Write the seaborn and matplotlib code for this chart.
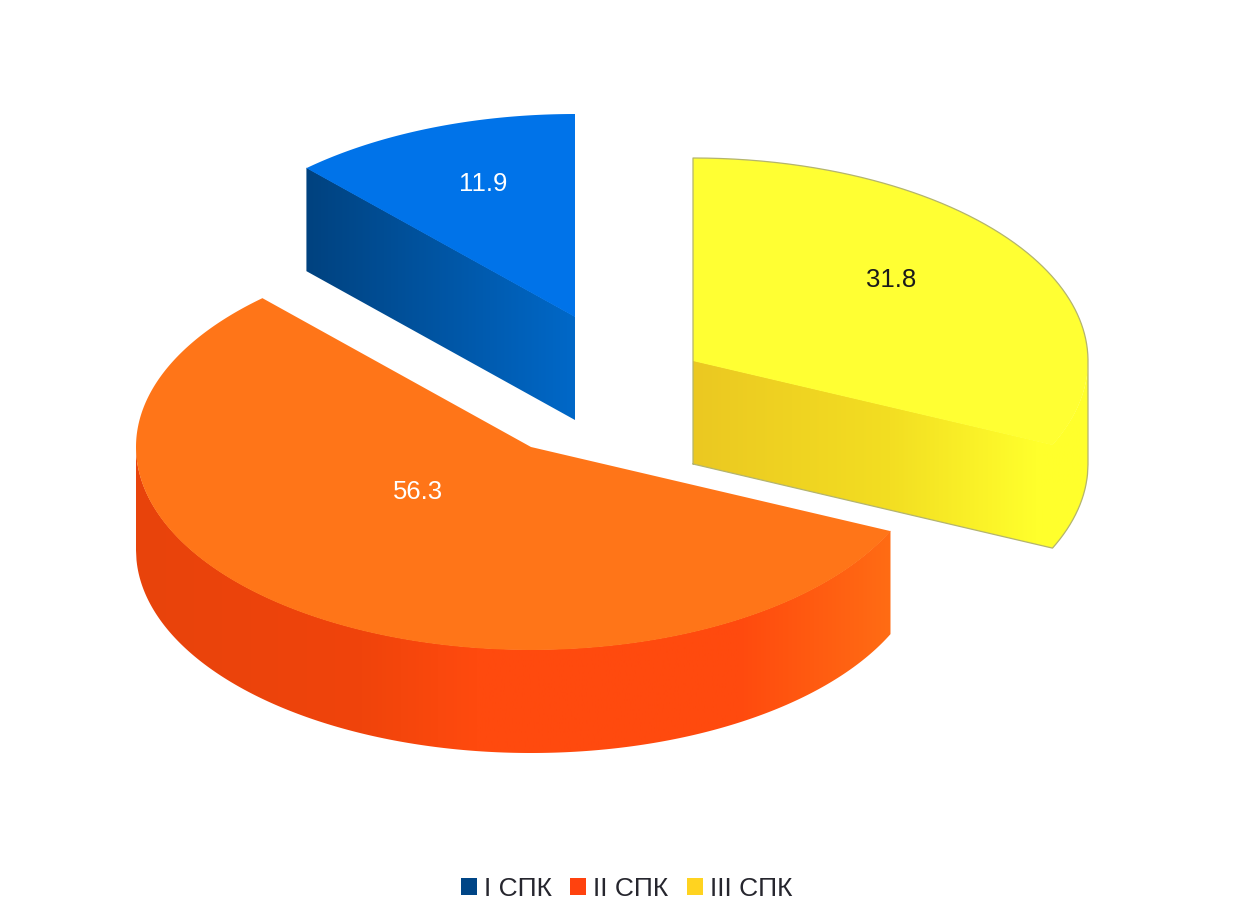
import numpy as np
import matplotlib
matplotlib.use('Agg')
import matplotlib.pyplot as plt
import seaborn as sns
from matplotlib.colors import LinearSegmentedColormap
from matplotlib.patches import Patch, Polygon

labels = ['I СПК', 'II СПК', 'III СПК']
values = [11.9, 56.3, 31.8]

# legend colours, top faces, wall gradients (left to right)
legend_colors = ['#004586', '#FF420E', '#FFD320']
top_colors = ['#0073E9', '#FF7518', '#FFFF33']
wall_colors = [[(0, '#00427F'), (1, '#0068C8')],
               [(0, '#E8430C'), (0.3, '#F0440B'), (0.45, '#FF4A0E'), (0.8, '#FF4A0E'), (1, '#FF6C14')],
               [(0, '#EBC821'), (0.5, '#F3DE22'), (0.87, '#FFFF2C'), (1, '#FFFF2C')]]
edge_colors = ['none', 'none', '#B4B46E']
text_colors = ['white', 'white', '#1A1A1A']

# exploded apex of each slice and label spot, in picture pixels
apex = [(575, 317), (531, 447), (693, 361)]
label_pos = [(483, 184), (418, 492), (891, 280)]
rx, ry = 395, 203
depth = 103

sns.set_theme(style='white')
plt.rcParams['font.family'] = ['Liberation Sans', 'DejaVu Sans']

fig = plt.figure(figsize=(12.41, 9.06), dpi=100)
ax = fig.add_axes([0, 0, 1, 1])


def lower_edge(px, py):
    # lowest point of the top face for every pixel column
    xs = np.arange(px.min(), px.max(), 0.5)
    xs = np.r_[xs, px.max()]
    ys = np.full(xs.shape, -np.inf)
    for i in range(len(px)):
        x1, y1, x2, y2 = px[i], py[i], px[(i + 1) % len(px)], py[(i + 1) % len(px)]
        if x1 == x2:
            continue
        m = (xs >= min(x1, x2)) & (xs <= max(x1, x2))
        ys[m] = np.maximum(ys[m], y1 + (y2 - y1) * (xs[m] - x1) / (x2 - x1))
    keep = np.isfinite(ys)
    return xs[keep], ys[keep]


def draw_slice(i, start, sweep):
    cx, cy = apex[i]
    t = np.radians(np.linspace(start, start + sweep, 400))
    px = np.r_[cx, cx + rx * np.cos(t)]
    py = np.r_[cy, cy - ry * np.sin(t)]

    # wall below the top face, horizontal gradient clipped to its outline
    xs, ys = lower_edge(px, py)
    wall = Polygon(np.c_[np.r_[xs, xs[::-1]], np.r_[ys - 0.5, (ys + depth)[::-1]]],
                   closed=True, fc='none', ec='none', zorder=i * 3 + 1)
    ax.add_patch(wall)
    cmap = LinearSegmentedColormap.from_list('wall%d' % i, wall_colors[i])
    img = ax.imshow(np.linspace(0, 1, 256).reshape(1, -1), cmap=cmap, aspect='auto',
                    extent=(px.min(), px.max(), py.max() + depth, py.min()),
                    zorder=i * 3)
    img.set_clip_path(wall)

    ax.add_patch(Polygon(np.c_[px, py], closed=True, fc=top_colors[i],
                         ec='none', zorder=i * 3 + 2))
    if edge_colors[i] != 'none':
        # thin rim round the silhouette only, left wall to arc to lower edge
        back = t[np.sin(t) >= 0][::-1]
        rim_x = np.r_[cx, cx + rx * np.cos(back), xs[::-1]]
        rim_y = np.r_[cy + depth, cy - ry * np.sin(back), (ys + depth)[::-1]]
        ax.plot(rim_x, rim_y, color=edge_colors[i], lw=0.9, zorder=i * 3 + 2)


start = 90
for i, v in enumerate(values):
    sweep = v / sum(values) * 360
    draw_slice(i, start, sweep)
    start += sweep

ax.set_xlim(0, 1241)
ax.set_ylim(906, 0)
ax.axis('off')

for i, v in enumerate(values):
    ax.text(label_pos[i][0], label_pos[i][1], str(v), color=text_colors[i], fontsize=18.5,
            ha='center', va='center', zorder=20)

handles = [Patch(fc=c, ec='none') for c in legend_colors]
ax.legend(handles, labels, loc='center', bbox_to_anchor=(626.5 / 1241, 1 - 889 / 906), ncol=3,
          frameon=False, fontsize=19, handlelength=0.6, handleheight=0.6,
          handletextpad=0.27, columnspacing=0.7, labelcolor='#26262E')

fig.savefig('out.png', dpi=100, facecolor='white')
